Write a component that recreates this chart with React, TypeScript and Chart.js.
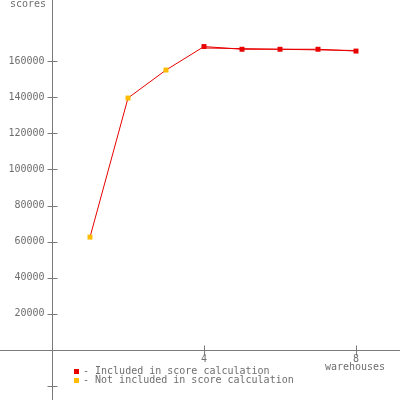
import React, { useEffect, useRef } from "react";
import { Chart, registerables } from "chart.js";

Chart.register(...registerables);

const warehouses = [1, 2, 3, 4, 5, 6, 7, 8];
const scores = [62500, 139500, 155000, 168000, 166500, 166500, 166500, 165500];
const included = [false, false, false, true, true, true, true, true];
const scoreLineX = [4, 8];
const scoreLineY = [167200, 165800];
const yTicks = [-20000, 20000, 40000, 60000, 80000, 100000, 120000, 140000, 160000];
const xTicks = [4, 8];
const legendLabels = ["- Included in score calculation", "- Not included in score calculation"];
const yTitle = "scores";
const xTitle = "warehouses";

const RED = "#e80000";
const ORANGE = "#ffbb00";
const AXIS = "#7a7a7a";
const TEXT = "#6e6e6e";
const FONT = '10px "DejaVu Sans Mono", monospace';

const axesPlugin = {
  id: "crossAxes",
  beforeDatasetsDraw(chart: any) {
    const { ctx } = chart;
    const xs = chart.scales.x;
    const ys = chart.scales.y;
    const ox = Math.round(xs.getPixelForValue(0)) + 0.5;
    const oy = Math.round(ys.getPixelForValue(0)) + 0.5;
    ctx.save();
    ctx.strokeStyle = AXIS;
    ctx.lineWidth = 1;
    ctx.beginPath();
    ctx.moveTo(ox, 0);
    ctx.lineTo(ox, 400);
    ctx.moveTo(0, oy);
    ctx.lineTo(400, oy);
    for (const v of yTicks) {
      const py = Math.round(ys.getPixelForValue(v)) + 0.5;
      ctx.moveTo(ox - 5, py);
      ctx.lineTo(ox + 5, py);
    }
    for (const v of xTicks) {
      const px = Math.round(xs.getPixelForValue(v)) + 0.5;
      ctx.moveTo(px, oy - 5);
      ctx.lineTo(px, oy + 5);
    }
    ctx.stroke();
    ctx.fillStyle = TEXT;
    ctx.font = FONT;
    ctx.textAlign = "right";
    ctx.textBaseline = "middle";
    for (const v of yTicks) {
      if (v <= 0) continue;
      ctx.fillText(String(v), ox - 8, ys.getPixelForValue(v));
    }
    ctx.textAlign = "center";
    ctx.textBaseline = "top";
    for (const v of xTicks) {
      ctx.fillText(String(v), xs.getPixelForValue(v), oy + 4);
    }
    ctx.fillText(xTitle, xs.getPixelForValue(8) - 1, oy + 12);
    ctx.textAlign = "left";
    ctx.textBaseline = "alphabetic";
    ctx.fillText(yTitle, 10, 7);
    // legend
    const lx = 74;
    const colors = [RED, ORANGE];
    legendLabels.forEach((t, i) => {
      const ly = 369 + i * 9;
      ctx.fillStyle = colors[i];
      ctx.fillRect(lx, ly, 5, 5);
      ctx.fillStyle = TEXT;
      ctx.textBaseline = "middle";
      ctx.fillText(t, lx + 9, ly + 2.5);
    });
    ctx.restore();
  },
};

export default function App() {
  const ref = useRef<HTMLCanvasElement>(null);
  useEffect(() => {
    if (!ref.current) return;
    const pxPerUnitX = 38;
    const ox = 52;
    const oy = 350;
    const pxPerY = 289 / 160000;
    const chart = new Chart(ref.current, {
      type: "line",
      data: {
        datasets: [
          {
            data: scoreLineX.map((x, i) => ({ x, y: scoreLineY[i] })),
            borderColor: RED,
            borderWidth: 1,
            pointRadius: 0,
            fill: false,
          },
          {
            data: warehouses.map((x, i) => ({ x, y: scores[i] })),
            borderColor: RED,
            borderWidth: 1,
            pointStyle: "rect",
            pointRadius: 3.5,
            pointBorderWidth: 0,
            pointBackgroundColor: included.map((v) => (v ? RED : ORANGE)),
            pointBorderColor: included.map((v) => (v ? RED : ORANGE)),
            fill: false,
          },
        ],
      },
      options: {
        animation: false,
        responsive: false,
        maintainAspectRatio: false,
        layout: { padding: 0, autoPadding: false },
        plugins: { legend: { display: false }, tooltip: { enabled: false } },
        scales: {
          x: {
            type: "linear",
            display: false,
            min: -ox / pxPerUnitX,
            max: (400 - ox) / pxPerUnitX,
          },
          y: {
            type: "linear",
            display: false,
            min: -(400 - oy) / pxPerY,
            max: oy / pxPerY,
          },
        },
      },
      plugins: [axesPlugin],
    });
    return () => chart.destroy();
  }, []);
  return (
    <canvas
      ref={ref}
      width={400}
      height={400}
      style={{ position: "fixed", left: 0, top: 0, width: 400, height: 400, background: "#fff" }}
    />
  );
}
